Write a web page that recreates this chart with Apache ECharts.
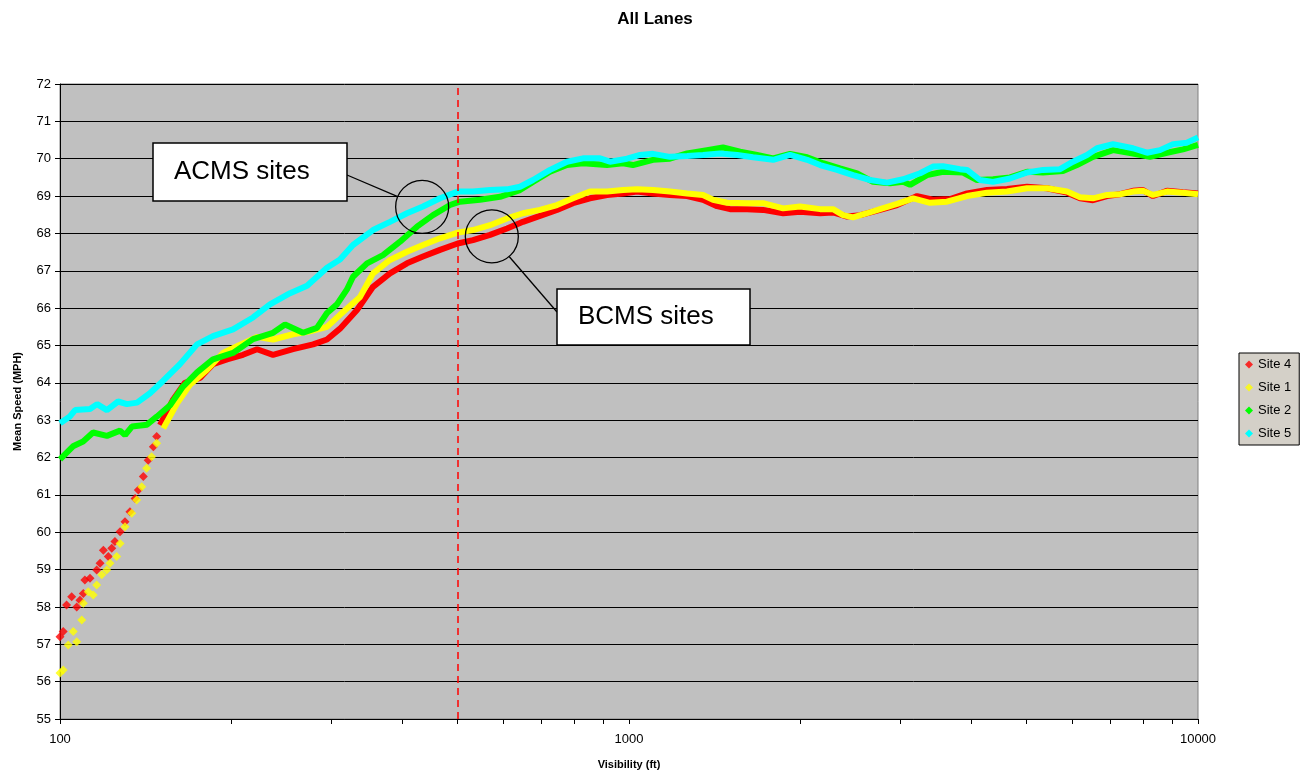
<!DOCTYPE html>
<html>
<head>
<meta charset="utf-8">
<title>All Lanes</title>
<script src="https://cdn.jsdelivr.net/npm/echarts@6/dist/echarts.min.js"></script>
<style>
  html, body { margin: 0; padding: 0; background: #fff; }
  #main { width: 1310px; height: 775px; }
</style>
</head>
<body>
<div id="main"></div>
<script>
// [visibility ft, mean speed mph]
const site4Sparse = [[100,57.2],[101.3,57.34],[102.7,58.05],[104.85,58.27],[107,58.0],[108.4,58.18],[109.9,58.36],[110.6,58.72],[112.9,58.77],[116,58.99],[117.6,59.17],[119.2,59.52],[121.6,59.35],[123.3,59.57],[124.9,59.75],[127.5,60.01],[130.1,60.28],[132.7,60.55],[135.5,60.9],[137.3,61.13],[140.1,61.49],[142.9,61.93],[145.9,62.29],[147.9,62.56]];
const site4Line = [[149.9,62.87],[158,63.55],[165.8,64.0],[176.2,64.13],[185.7,64.5],[196.6,64.63],[209.7,64.75],[222,64.9],[236.8,64.75],[256.8,64.9],[278.5,65.03],[294.6,65.16],[310.5,65.45],[332.6,65.95],[354.9,66.57],[380.1,66.93],[407.2,67.2],[434.5,67.38],[465.4,67.56],[500,67.73],[531.9,67.82],[569.9,67.96],[610.4,68.13],[651.2,68.31],[697.5,68.47],[747.2,68.63],[797.3,68.81],[854,68.94],[914.8,69.03],[976.1,69.07],[1033,69.12],[1102,69.07],[1180,69.03],[1265,69.0],[1349,68.9],[1428,68.73],[1505,68.65],[1613,68.65],[1720,68.63],[1866,68.54],[1998,68.58],[2167,68.54],[2284,68.56],[2417,68.45],[2548,68.49],[2762,68.63],[2959,68.76],[3209,69.0],[3421,68.9],[3666,68.92],[3927,69.07],[4258,69.16],[4617,69.19],[5006,69.25],[5428,69.21],[5886,69.09],[6204,68.94],[6539,68.89],[6920,69.0],[7293,69.05],[7687,69.14],[8004,69.16],[8335,69.0],[8821,69.14],[9411,69.1],[10000,69.07]];

const site1Sparse = [[100,56.23],[101.3,56.31],[103.4,56.98],[105.5,57.34],[107,57.07],[109.2,57.65],[109.9,58.1],[112.1,58.41],[114.4,58.32],[116,58.59],[118.4,58.86],[120.8,58.99],[122.4,59.17],[125.8,59.35],[127.5,59.7],[130.1,60.15],[133.7,60.51],[136.4,60.86],[139.2,61.22],[142,61.71],[144.9,62.02],[147.9,62.38]];
const site1Line = [[151.9,62.78],[160.6,63.45],[169.2,63.95],[181.3,64.35],[193.4,64.8],[204.7,64.98],[222,65.23],[236.8,65.16],[256.8,65.3],[275.1,65.38],[294.6,65.5],[310.5,65.82],[336.8,66.3],[354.9,66.93],[380.1,67.29],[407.2,67.51],[434.5,67.69],[465.4,67.87],[500,68.02],[531.9,68.09],[569.9,68.22],[610.4,68.4],[651.2,68.54],[697.5,68.63],[747.2,68.76],[797.3,68.94],[854,69.12],[914.8,69.12],[976.1,69.16],[1033,69.18],[1102,69.16],[1180,69.12],[1265,69.07],[1349,69.03],[1405,68.9],[1487,68.82],[1613,68.81],[1720,68.81],[1866,68.67],[1998,68.72],[2167,68.65],[2284,68.65],[2378,68.49],[2476,68.43],[2621,68.54],[2762,68.65],[2959,68.79],[3158,68.94],[3380,68.82],[3621,68.85],[3927,69.0],[4258,69.09],[4617,69.12],[5006,69.21],[5428,69.21],[5886,69.12],[6204,68.97],[6539,68.94],[6920,69.03],[7293,69.05],[7687,69.12],[8004,69.14],[8335,69.03],[8821,69.12],[9411,69.09],[10000,69.05]];

const site2Line = [[100,61.95],[105.4,62.3],[109.8,62.43],[114.3,62.67],[120.9,62.58],[127.5,62.72],[130.1,62.6],[133.8,62.83],[142.2,62.88],[148.1,63.1],[156.1,63.4],[164.5,63.9],[174.1,64.28],[185.7,64.63],[201.4,64.8],[218.4,65.17],[236.8,65.34],[248.6,65.56],[267.4,65.34],[282.9,65.47],[294.6,65.87],[306.7,66.1],[319.4,66.5],[327.3,66.84],[346.4,67.2],[369.5,67.42],[395.9,67.78],[424,68.18],[452.4,68.49],[484.7,68.76],[504.6,68.85],[547.1,68.9],[593.3,68.98],[643.3,69.16],[678,69.38],[726.4,69.65],[778.1,69.83],[830.1,69.88],[914.8,69.83],[976.1,69.88],[1016,69.83],[1102,69.97],[1180,70.0],[1265,70.14],[1371,70.23],[1463,70.3],[1568,70.19],[1679,70.1],[1792,70.01],[1919,70.13],[2056,70.04],[2193,69.88],[2349,69.74],[2517,69.61],[2685,69.38],[2877,69.34],[3032,69.38],[3119,69.3],[3340,69.56],[3563,69.65],[3864,69.63],[4089,69.43],[4363,69.45],[4674,69.5],[5006,69.65],[5341,69.63],[5791,69.67],[6129,69.83],[6539,70.05],[7090,70.23],[7687,70.14],[8234,70.05],[8821,70.16],[9411,70.25],[10000,70.37]];

const site5Line = [[100,62.92],[104.1,63.1],[106.3,63.27],[112.9,63.3],[116.2,63.43],[120.9,63.27],[126.5,63.5],[131.1,63.43],[136.6,63.47],[143.9,63.72],[151.7,64.05],[162.5,64.5],[174.1,65.03],[185.7,65.25],[201.4,65.43],[218.4,65.75],[233.9,66.1],[253.7,66.4],[271.8,66.6],[294.6,67.08],[310.5,67.3],[327.3,67.69],[354.9,68.09],[380.1,68.31],[407.2,68.54],[434.5,68.72],[465.4,68.94],[500,69.12],[531.9,69.12],[569.9,69.16],[610.4,69.18],[643.3,69.25],[678,69.43],[726.4,69.7],[778.1,69.92],[830.1,70.01],[889.3,70.01],[926,69.92],[992,70.0],[1045.7,70.1],[1102,70.13],[1180,70.05],[1265,70.07],[1349,70.1],[1445,70.14],[1549,70.1],[1652,70.04],[1792,69.97],[1919,70.1],[2056,69.97],[2167,69.83],[2321,69.7],[2476,69.56],[2653,69.43],[2842,69.36],[3032,69.45],[3248,69.61],[3421,69.79],[3563,69.8],[3817,69.72],[3927,69.7],[4139,69.43],[4363,69.38],[4674,69.47],[5006,69.63],[5341,69.7],[5721,69.72],[6030,69.92],[6382,70.1],[6645,70.28],[7090,70.39],[7687,70.28],[8135,70.16],[8574,70.23],[9037,70.39],[9564,70.43],[10000,70.57]];

const xTickValues = [100,200,300,400,500,600,700,800,900,1000,2000,3000,4000,5000,6000,7000,8000,9000,10000];
const xLabelValues = [100, 1000, 10000];
const cutoffVisibility = 500;

// callout circles, centred in data space
const acmsCircle = [433, 68.71];
const bcmsCircle = [574, 67.92];

const FONT = '"Liberation Sans", Arial, sans-serif';
const chart = echarts.init(document.getElementById('main'));

function lineSeries(name, color, data, extra) {
  return Object.assign({
    name: name,
    type: 'line',
    data: data,
    symbol: 'none',
    lineStyle: { color: color, width: 6 },
    itemStyle: { color: color },
    animation: false
  }, extra || {});
}
function dotSeries(name, color, data) {
  return {
    name: name,
    type: 'scatter',
    data: data,
    symbol: 'diamond',
    symbolSize: 9,
    itemStyle: { color: color },
    animation: false
  };
}

chart.setOption({
  backgroundColor: '#fff',
  textStyle: { fontFamily: FONT },
  title: {
    text: 'All Lanes',
    left: 'center',
    top: 6,
    textStyle: { fontSize: 17, fontWeight: 'bold', color: '#000', fontFamily: FONT }
  },
  legend: {
    orient: 'vertical',
    left: 1239,
    top: 353,
    data: ['Site 4', 'Site 1', 'Site 2', 'Site 5'],
    icon: 'diamond',
    itemWidth: 8,
    itemHeight: 8,
    itemGap: 10,
    padding: [5, 8, 5, 6],
    backgroundColor: '#d4d0c8',
    borderColor: '#000',
    borderWidth: 1,
    textStyle: { fontSize: 13, color: '#000', fontFamily: FONT }
  },
  grid: {
    left: 60, right: 112, top: 84, bottom: 56,
    show: true,
    backgroundColor: '#c0c0c0',
    borderColor: '#808080',
    borderWidth: 1
  },
  xAxis: {
    type: 'log',
    logBase: 10,
    min: 100,
    max: 10000,
    name: 'Visibility (ft)',
    nameLocation: 'middle',
    nameGap: 40,
    nameTextStyle: { fontSize: 11, fontWeight: 'bold', color: '#000', fontFamily: FONT },
    axisLine: { lineStyle: { color: '#000', width: 1 } },
    axisTick: { customValues: xTickValues, length: 5, lineStyle: { color: '#000' } },
    axisLabel: {
      customValues: xLabelValues, margin: 14, fontSize: 13, color: '#000', fontFamily: FONT,
      formatter: function (v) { return String(Math.round(v)); }
    },
    splitLine: { show: false },
    minorTick: { show: false }
  },
  yAxis: {
    type: 'value',
    min: 55,
    max: 72,
    interval: 1,
    name: 'Mean Speed (MPH)',
    nameLocation: 'middle',
    nameGap: 37,
    nameTextStyle: { fontSize: 11, fontWeight: 'bold', color: '#000', fontFamily: FONT },
    axisLine: { show: true, lineStyle: { color: '#000', width: 1 } },
    axisTick: { show: true, length: 5, lineStyle: { color: '#000' } },
    axisLabel: { margin: 9, fontSize: 13, color: '#000', fontFamily: FONT },
    splitLine: { lineStyle: { color: '#000', width: 1 } }
  },
  series: [
    dotSeries('Site 4', '#ff0000', site4Sparse),
    lineSeries('Site 4', '#ff0000', site4Line, {
      markLine: {
        silent: true,
        symbol: 'none',
        label: { show: false },
        lineStyle: { color: '#ff0000', type: [7, 5], width: 1.5 },
        data: [{ xAxis: cutoffVisibility }]
      }
    }),
    dotSeries('Site 1', '#ffff00', site1Sparse),
    lineSeries('Site 1', '#ffff00', site1Line),
    lineSeries('Site 2', '#00ff00', site2Line),
    lineSeries('Site 5', '#00ffff', site5Line)
  ]
});

// callouts: boxes with a leader line to a circle around the traces
function callout(boxX, boxY, boxW, boxH, text, anchor, circleData) {
  const c = chart.convertToPixel({ gridIndex: 0 }, circleData);
  const r = 26.5;
  const dx = anchor[0] - c[0], dy = anchor[1] - c[1];
  const len = Math.sqrt(dx * dx + dy * dy);
  const ex = c[0] + r * dx / len, ey = c[1] + r * dy / len;
  return [
    { type: 'line', z: 100, shape: { x1: anchor[0], y1: anchor[1], x2: ex, y2: ey },
      style: { stroke: '#000', lineWidth: 1.3 } },
    { type: 'circle', z: 100, shape: { cx: c[0], cy: c[1], r: r },
      style: { fill: null, stroke: '#000', lineWidth: 1.3 } },
    { type: 'rect', z: 100, shape: { x: boxX, y: boxY, width: boxW, height: boxH },
      style: { fill: '#fff', stroke: '#000', lineWidth: 1.5 } },
    { type: 'text', z: 101, x: boxX + 21, y: boxY + boxH / 2,
      style: { text: text, fontSize: 26, fontFamily: FONT, fill: '#000', verticalAlign: 'middle' } }
  ];
}

chart.setOption({
  graphic: [].concat(
    callout(153, 143, 194, 58, 'ACMS sites', [347, 175], acmsCircle),
    callout(557, 289, 193, 56, 'BCMS sites', [557, 312], bcmsCircle)
  )
});
</script>
</body>
</html>
